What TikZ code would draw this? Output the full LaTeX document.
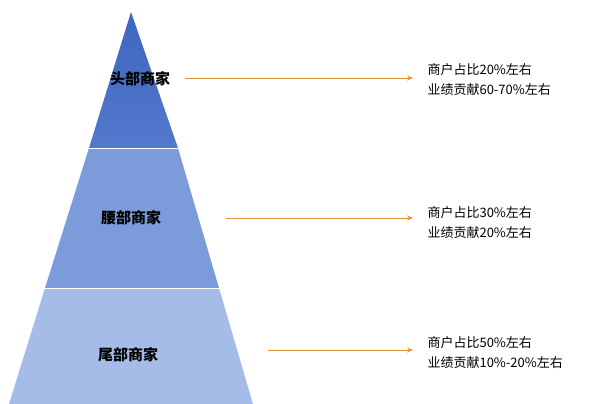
\documentclass[tikz,border=0pt]{standalone}
\usepackage{fontspec}
\setmainfont{Noto Sans CJK SC}
\usetikzlibrary{arrows.meta}
\definecolor{tA}{HTML}{5279CC}
\definecolor{tAt}{HTML}{3F66C0}
\definecolor{tB}{HTML}{7C9BDA}
\definecolor{tC}{HTML}{A6BCE8}
\definecolor{arr}{HTML}{E0913A}
\tikzset{x=1pt,y=-1pt,
 lab/.style={font=\fontsize{15}{15}\selectfont\bfseries},
 info/.style={font=\fontsize{13}{20}\selectfont,align=left,anchor=west},
 con/.style={draw=arr,line width=0.8pt,-{Stealth[length=6pt,width=5pt]}}}
\begin{document}
\begin{tikzpicture}
\useasboundingbox (0,0) rectangle (600,404);
\fill[white] (0,0) rectangle (600,404);
\shade[top color=tAt,bottom color=tA] (131,12) -- (178,148) -- (89,148) -- cycle;
\fill[tB] (89,148) -- (178,148) -- (219,288) -- (45,288) -- cycle;
\fill[tC] (45,288) -- (219,288) -- (253,404) -- (9,404) -- cycle;
\draw[white,line width=1pt] (89,148) -- (178,148) (45,288) -- (219,288);
\node[lab] (l1) at (140,79) {头部商家};
\node[lab] (l2) at (131,218) {腰部商家};
\node[lab] (l3) at (128,355) {尾部商家};
\coordinate (s1) at (185,78); \coordinate (e1) at (413,78);
\coordinate (s2) at (226,218); \coordinate (e2) at (413,218);
\coordinate (s3) at (268,350); \coordinate (e3) at (413,350);
\draw[con] (s1) -- (e1);
\draw[con] (s2) -- (e2);
\draw[con] (s3) -- (e3);
\node[info] (t1) at (424,80) {商户占比20\%左右\\业绩贡献60-70\%左右};
\node[info] (t2) at (424,223) {商户占比30\%左右\\业绩贡献20\%左右};
\node[info] (t3) at (424,353) {商户占比50\%左右\\业绩贡献10\%-20\%左右};
\end{tikzpicture}
\end{document}
